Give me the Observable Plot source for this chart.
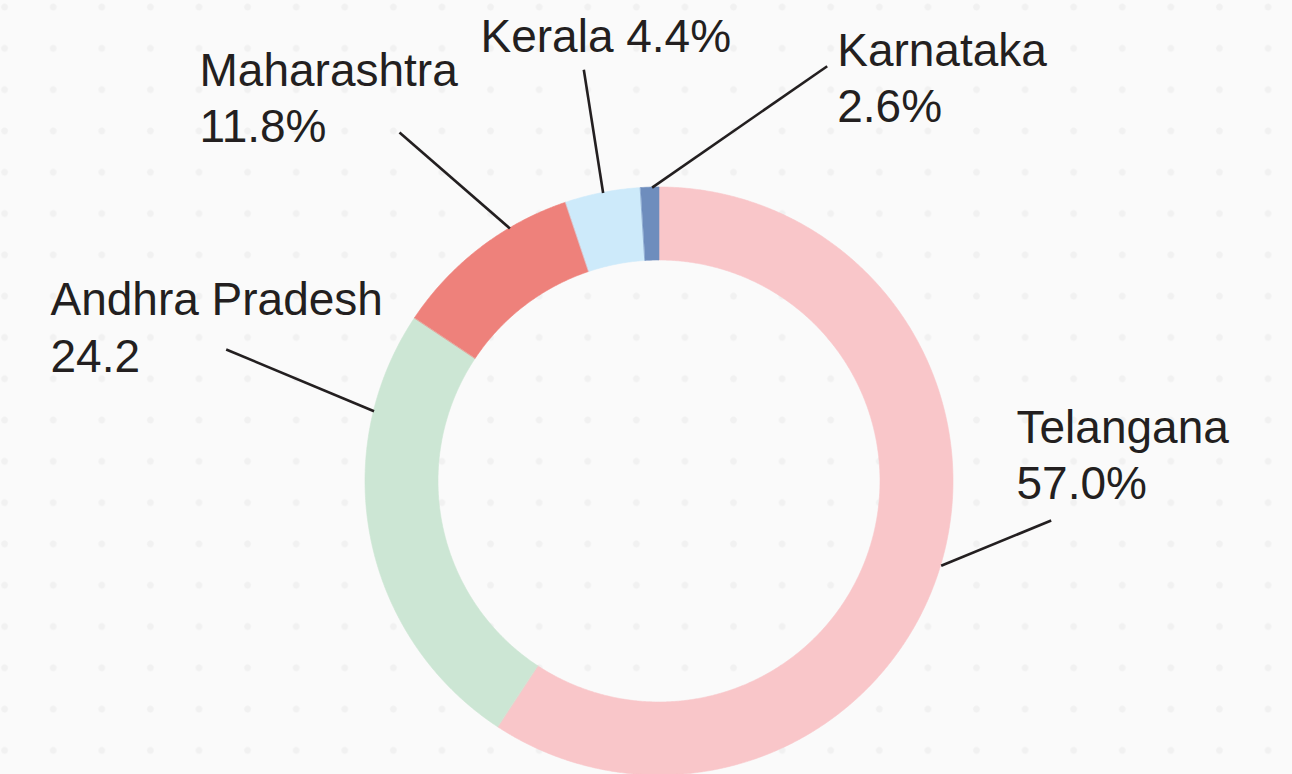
<!DOCTYPE html>
<html>
<head>
<meta charset="utf-8">
<script src="https://cdn.jsdelivr.net/npm/d3@7"></script>
<script src="https://cdn.jsdelivr.net/npm/@observablehq/plot@0.6"></script>
<style>
  html, body { margin: 0; padding: 0; }
  body {
    width: 1292px; height: 774px; overflow: hidden;
    background-color: #fafafa;
    background-image: radial-gradient(circle, #f1f1f1 2.8px, rgba(250,250,250,0) 4px);
    background-size: 48.6px 41.3px;
    background-position: -19.7px -13.6px;
  }
  #chart svg { display: block; }
</style>
</head>
<body>
<div id="chart"></div>
<script>
// ---- data ----
const states      = ["Telangana", "Andhra Pradesh", "Maharashtra", "Kerala", "Karnataka"];
const labelValues = ["57.0%", "24.2", "11.8%", "4.4%", "2.6%"];
// share of the ring each slice occupies as drawn (clockwise from 12 o'clock)
const arcShares   = [59.25, 25.12, 10.49, 4.14, 1.0];
const colors      = ["#f9c6c9", "#cce6d4", "#ee817b", "#cdeafa", "#6e8dbd"];

// ---- layout ----
const W = 1292, H = 774;
const cx = 659, cy = 481, R = 294, r = 221;
const fontSize = 46, lineGap = 56.3, ink = "#231f20";
const labelLayout = [
  {sep: "\n", x: 1016, y: 498.5, lx: 1050.7, ly: 520,   at: 0.5},
  {sep: "\n", x: 50,   y: 371,   lx: 225.7,  ly: 349,   at: 0.78},
  {sep: "\n", x: 199,  y: 141.7, lx: 399,    ly: 132,   at: 0.68},
  {sep: " ",  x: 480,  y: 51.7,  lx: 583.3,  ly: 69.3,  at: 0.5},
  {sep: "\n", x: 836.7,y: 121.7, lx: 826.7,  ly: 65.7,  at: 0.6}
];

// ---- derived geometry from the data ----
const total = d3.sum(arcShares);
let acc = 0;
const slices = states.map((s, i) => {
  const a0 = acc / total * 360;
  acc += arcShares[i];
  return {state: s, a0, a1: acc / total * 360, color: colors[i]};
});
const rad = (deg) => deg * Math.PI / 180;
const arcPts = slices.flatMap(d => {
  const n = Math.max(4, Math.ceil((d.a1 - d.a0) * 3));
  return d3.range(n + 1).map(k => {
    const a = rad(d.a0 + (d.a1 - d.a0) * k / n);
    return {
      state: d.state, color: d.color,
      xo: cx + R * Math.sin(a), yo: cy - R * Math.cos(a),
      xi: cx + r * Math.sin(a), yi: cy - r * Math.cos(a)
    };
  });
});
const leaders = slices.map((d, i) => {
  const L = labelLayout[i];
  const a = rad(d.a0 + (d.a1 - d.a0) * L.at);
  return {x1: cx + R * Math.sin(a), y1: cy - R * Math.cos(a), x2: L.lx, y2: L.ly};
});
const labels = states.map((s, i) => ({
  text: s + labelLayout[i].sep + labelValues[i],
  x: labelLayout[i].x, y: labelLayout[i].y
}));

const chart = Plot.plot({
  width: W, height: H,
  margin: 0,
  x: {domain: [0, W], range: [0, W], axis: null},
  y: {domain: [0, H], range: [0, H], axis: null},
  color: {type: "identity"},
  style: {background: "transparent", fontFamily: "'Liberation Sans', Arial, Helvetica, sans-serif"},
  marks: [
    Plot.area(arcPts, {x1: "xo", y1: "yo", x2: "xi", y2: "yi", z: "state",
      fill: "color", stroke: "color", strokeWidth: 0.6, curve: "linear"}),
    Plot.link(leaders, {x1: "x1", y1: "y1", x2: "x2", y2: "y2",
      stroke: ink, strokeWidth: 2.6}),
    Plot.text(labels, {x: "x", y: "y", text: "text", textAnchor: "start",
      lineAnchor: "bottom", lineHeight: lineGap / fontSize,
      fontSize: fontSize, fill: ink,
      fontFamily: "'Liberation Sans', Arial, Helvetica, sans-serif"})
  ]
});
document.getElementById("chart").appendChild(chart);
</script>
</body>
</html>
